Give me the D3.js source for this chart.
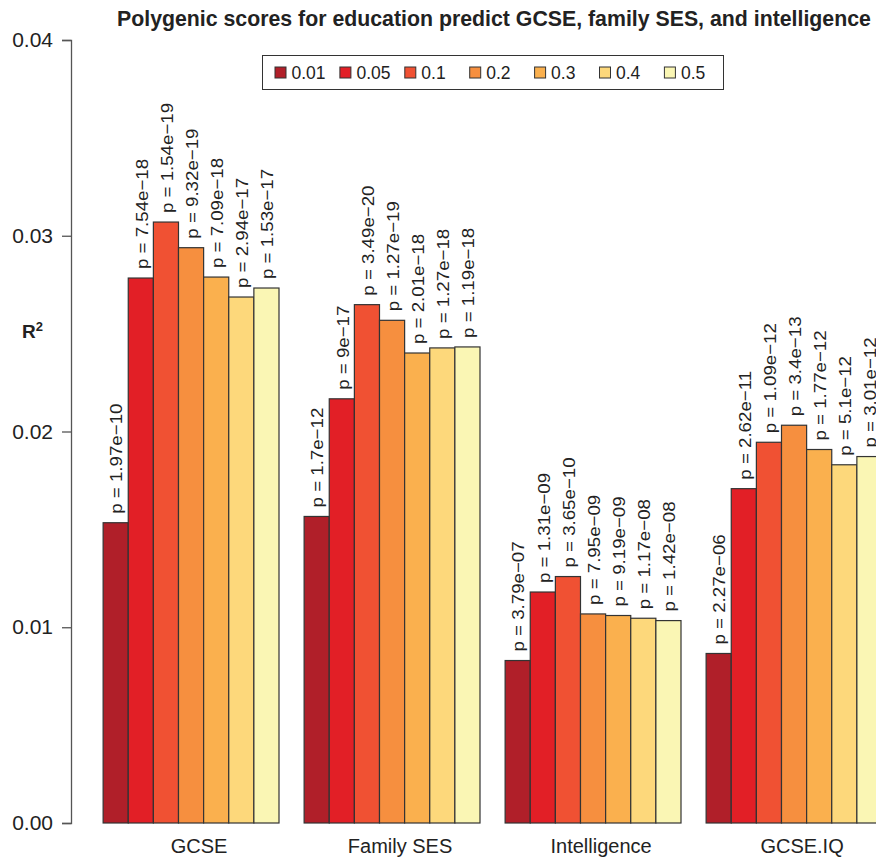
<!DOCTYPE html>
<html>
<head>
<meta charset="utf-8">
<script src="https://cdn.jsdelivr.net/npm/d3@7"></script>
<style>
  body { margin: 0; background: #fff; }
  text { font-family: "Liberation Sans", Arial, Helvetica, sans-serif; fill: #222; }
</style>
</head>
<body>
<script>
// categories and thresholds
var categories = ["GCSE", "Family SES", "Intelligence", "GCSE.IQ"];
var thresholds = ["0.01", "0.05", "0.1", "0.2", "0.3", "0.4", "0.5"];
var colors = ["#b01f29", "#e21f26", "#f05133", "#f68f3f", "#fab04e", "#fdd87b", "#faf6b4"];

// R2 values, one array per category (in threshold order)
var r2GCSE = [0.01534, 0.02784, 0.03070, 0.02939, 0.02789, 0.02687, 0.02733];
var r2FamilySES = [0.01566, 0.02167, 0.02648, 0.02568, 0.02401, 0.02427, 0.02432];
var r2Intelligence = [0.00830, 0.01180, 0.01259, 0.01068, 0.01060, 0.01046, 0.01034];
var r2GCSEIQ = [0.00866, 0.01708, 0.01945, 0.02032, 0.01908, 0.01830, 0.01872];

// p-value labels
var pGCSE = ["1.97e\u221210", "7.54e\u221218", "1.54e\u221219", "9.32e\u221219", "7.09e\u221218", "2.94e\u221217", "1.53e\u221217"];
var pFamilySES = ["1.7e\u221212", "9e\u221217", "3.49e\u221220", "1.27e\u221219", "2.01e\u221218", "1.27e\u221218", "1.19e\u221218"];
var pIntelligence = ["3.79e\u221207", "1.31e\u221209", "3.65e\u221210", "7.95e\u221209", "9.19e\u221209", "1.17e\u221208", "1.42e\u221208"];
var pGCSEIQ = ["2.27e\u221206", "2.62e\u221211", "1.09e\u221212", "3.4e\u221213", "1.77e\u221212", "5.1e\u221212", "3.01e\u221212"];

var yTicks = [0, 0.01, 0.02, 0.03, 0.04];

var r2 = [r2GCSE, r2FamilySES, r2Intelligence, r2GCSEIQ];
var pv = [pGCSE, pFamilySES, pIntelligence, pGCSEIQ];

var data = [];
categories.forEach(function(c, i) {
  thresholds.forEach(function(t, j) {
    data.push({cat: c, thr: t, value: r2[i][j], p: pv[i][j]});
  });
});

var W = 876, H = 857;
var margin = {top: 40, left: 78, bottom: 34};
var plotBottom = H - margin.bottom; // 823

var svg = d3.select("body").append("svg")
    .attr("width", W)
    .attr("height", H);

// one group = 1 space + 7 bars (R style barplot, beside = TRUE)
var unit = 25.125;
var x0 = d3.scaleBand()
    .domain(categories)
    .range([margin.left, margin.left + categories.length * 8 * unit])
    .paddingInner(0).paddingOuter(0);
var x1 = d3.scaleBand()
    .domain(["_space"].concat(thresholds))
    .range([0, x0.bandwidth()]);
var color = d3.scaleOrdinal().domain(thresholds).range(colors);

var y = d3.scaleLinear().domain([0, 0.04]).range([plotBottom, 40]);

// bars
svg.append("g").selectAll("rect")
  .data(data)
  .join("rect")
    .attr("x", function(d) { return x0(d.cat) + x1(d.thr); })
    .attr("y", function(d) { return y(d.value); })
    .attr("width", x1.bandwidth())
    .attr("height", function(d) { return y(0) - y(d.value); })
    .attr("fill", function(d) { return color(d.thr); })
    .attr("stroke", "#333")
    .attr("stroke-width", 1.2);

// p-value labels (slightly stretched along the text, like the original)
svg.append("g").selectAll("text")
  .data(data)
  .join("text")
    .attr("transform", function(d) {
      var cx = x0(d.cat) + x1(d.thr) + x1.bandwidth() / 2;
      return "translate(" + cx + "," + (y(d.value) - 9) + ") rotate(-90) scale(1.1,1)";
    })
    .attr("dy", "0.4em")
    .style("font-size", "17px")
    .text(function(d) { return "p = " + d.p; });

// y axis
var yAxis = svg.append("g")
    .attr("transform", "translate(71,0)")
    .call(d3.axisLeft(y).tickValues(yTicks).tickFormat(d3.format(".2f")).tickSize(9).tickPadding(9));
yAxis.select(".domain").attr("stroke", "#555").attr("stroke-width", 1.3);
yAxis.selectAll(".tick line").attr("stroke", "#555").attr("stroke-width", 1.3);
yAxis.selectAll(".tick text")
    .style("font-size", "21px")
    .style("font-family", "'Liberation Sans', Arial, sans-serif")
    .attr("fill", "#222");

// category labels
svg.append("g").selectAll("text")
  .data(categories)
  .join("text")
    .attr("x", function(d) { return x0(d) + x1("0.01") + 3.5 * x1.bandwidth() + 8; })
    .attr("y", 853)
    .attr("text-anchor", "middle")
    .style("font-size", "20px")
    .text(function(d) { return d; });

// y label R^2
var yl = svg.append("text")
    .attr("x", 22)
    .attr("y", 338)
    .style("font-size", "19px")
    .style("font-weight", "bold");
yl.append("tspan").text("R");
yl.append("tspan").attr("dy", -7).style("font-size", "13px").text("2");

// title
svg.append("text")
    .attr("x", 117)
    .attr("y", 26)
    .style("font-size", "21.3px")
    .style("font-weight", "bold")
    .text("Polygenic scores for education predict GCSE, family SES, and intelligence");

// legend
var legend = svg.append("g");
legend.append("rect")
    .attr("x", 262.5).attr("y", 55.5)
    .attr("width", 461).attr("height", 34)
    .attr("fill", "none").attr("stroke", "#333").attr("stroke-width", 1);
var item = legend.selectAll("g.item")
  .data(thresholds)
  .join("g")
    .attr("class", "item")
    .attr("transform", function(d, i) { return "translate(" + (275 + i * 64.9) + ",67)"; });
item.append("rect")
    .attr("width", 11).attr("height", 11)
    .attr("fill", function(d) { return color(d); })
    .attr("stroke", "#333").attr("stroke-width", 1);
item.append("text")
    .attr("x", 16.5).attr("y", 12)
    .style("font-size", "17.5px")
    .text(function(d) { return d; });
</script>
</body>
</html>
